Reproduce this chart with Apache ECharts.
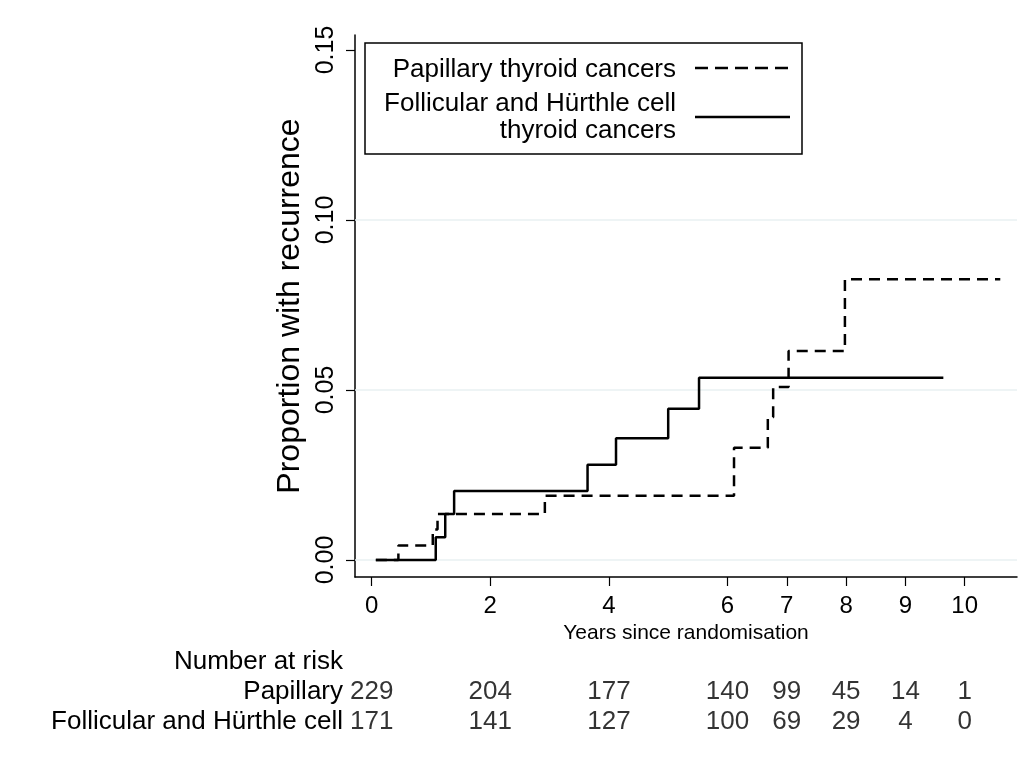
<!DOCTYPE html>
<html>
<head>
<meta charset="utf-8">
<script src="https://cdn.jsdelivr.net/npm/echarts@6/dist/echarts.min.js"></script>
<style>
html,body{margin:0;padding:0;background:#fff;}
#chart{width:1027px;height:758px;}
</style>
</head>
<body>
<div id="chart"></div>
<script>
// ---- data ----
const papillaryTimes  = [0.07, 0.45, 1.03, 1.11, 2.92, 6.11, 6.68, 6.77, 7.03, 7.98, 10.6];
const papillaryValues = [0, 0.0043, 0.009, 0.0135, 0.0189, 0.033, 0.042, 0.0509, 0.0615, 0.0826, 0.0826];
const follicularTimes  = [0.07, 1.08, 1.24, 1.39, 3.64, 4.12, 5.0, 5.52, 9.64];
const follicularValues = [0, 0.0067, 0.0135, 0.0203, 0.028, 0.0358, 0.0445, 0.0536, 0.0536];
const xTicks = [0, 2, 4, 6, 7, 8, 9, 10];
const yTicks = [0, 0.05, 0.10, 0.15];
const riskRows = ['Number at risk', 'Papillary', 'Follicular and Hürthle cell'];
const riskPapillary  = [229, 204, 177, 140, 99, 45, 14, 1];
const riskFollicular = [171, 141, 127, 100, 69, 29, 4, 0];
const seriesNames = ['Papillary thyroid cancers', 'Follicular and Hürthle cell\nthyroid cancers'];

const FONT = 'Liberation Sans, Arial, sans-serif';
const X_MIN = -0.2816, X_MAX = 10.882;
const Y_MIN = -0.005, Y_MAX = 0.1544;

const chart = echarts.init(document.getElementById('chart'), null, {renderer: 'canvas'});

const papData = papillaryTimes.map((t, i) => [t, papillaryValues[i]]);
const folData = follicularTimes.map((t, i) => [t, follicularValues[i]]);
const riskData = [];
xTicks.forEach((t, i) => {
  riskData.push([t, riskRows[1], riskPapillary[i]]);
  riskData.push([t, riskRows[2], riskFollicular[i]]);
});

const option = {
  backgroundColor: '#ffffff',
  animation: false,
  textStyle: {fontFamily: FONT, color: '#000'},
  grid: [
    {left: 355, top: 35, width: 662, height: 542, containLabel: false},
    {left: 355, top: 647, width: 662, height: 90, containLabel: false}
  ],
  xAxis: [
    {
      gridIndex: 0, type: 'value', min: X_MIN, max: X_MAX,
      name: 'Years since randomisation', nameLocation: 'middle', nameGap: 45,
      nameTextStyle: {fontSize: 21, color: '#000', fontFamily: FONT},
      axisLine: {show: true, onZero: false, lineStyle: {color: '#000', width: 1.5}},
      axisTick: {show: true, length: 9, lineStyle: {color: '#000', width: 1.2}, customValues: xTicks},
      axisLabel: {show: true, fontSize: 24, color: '#000', margin: 17, fontFamily: FONT, customValues: xTicks,
        formatter: v => String(v)},
      splitLine: {show: false}
    },
    {
      gridIndex: 1, type: 'value', min: X_MIN, max: X_MAX, show: false
    }
  ],
  yAxis: [
    {
      gridIndex: 0, type: 'value', min: Y_MIN, max: Y_MAX,
      name: 'Proportion with recurrence', nameLocation: 'middle', nameGap: 44, nameRotate: 90,
      nameTextStyle: {fontSize: 32, color: '#000', fontFamily: FONT},
      axisLine: {show: true, onZero: false, lineStyle: {color: '#000', width: 1.5}},
      axisTick: {show: true, length: 9, lineStyle: {color: '#000', width: 1.2}, customValues: yTicks},
      axisLabel: {show: true, rotate: 90, fontSize: 25, color: '#000', margin: 16, fontFamily: FONT,
        customValues: yTicks, formatter: v => v.toFixed(2)},
      splitLine: {show: false}
    },
    {
      gridIndex: 1, type: 'category', data: riskRows, inverse: true,
      axisLine: {show: false}, axisTick: {show: false}, splitLine: {show: false},
      axisLabel: {show: true, interval: 0, fontSize: 26, color: '#000', margin: 12, fontFamily: FONT}
    }
  ],
  series: [
    {
      name: seriesNames[0], type: 'line', step: 'end', data: papData,
      xAxisIndex: 0, yAxisIndex: 0, symbol: 'none', z: 3,
      lineStyle: {color: '#000', width: 2.5, type: [11, 7]},
      markLine: {
        silent: true, symbol: 'none', label: {show: false}, z: 1,
        lineStyle: {color: '#e8f0f2', width: 1.5, type: 'solid'},
        data: [{yAxis: yTicks[0]}, {yAxis: yTicks[1]}, {yAxis: yTicks[2]}]
      }
    },
    {
      name: seriesNames[1], type: 'line', step: 'end', data: folData,
      xAxisIndex: 0, yAxisIndex: 0, symbol: 'none', z: 4,
      lineStyle: {color: '#000', width: 2.5, type: 'solid'}
    },
    {
      name: 'risk', type: 'scatter', xAxisIndex: 1, yAxisIndex: 1,
      data: riskData, symbolSize: 0, silent: true,
      label: {show: true, position: 'inside', fontSize: 26, color: '#000', fontFamily: FONT,
        formatter: p => String(p.value[2])}
    }
  ],
  graphic: [
    {type: 'rect', shape: {x: 365, y: 43, width: 437, height: 111},
      style: {fill: '#fff', stroke: '#000', lineWidth: 1.5}, z: 10},
    {type: 'text', x: 676, y: 70, z: 11,
      style: {text: seriesNames[0], font: '26px ' + FONT, fill: '#000', textAlign: 'right', textVerticalAlign: 'middle'}},
    {type: 'text', x: 676, y: 117.5, z: 11,
      style: {text: seriesNames[1], font: '26px ' + FONT, fill: '#000', textAlign: 'right', textVerticalAlign: 'middle', lineHeight: 27}},
    {type: 'line', shape: {x1: 695, y1: 68, x2: 790, y2: 68}, z: 11,
      style: {stroke: '#000', lineWidth: 2.5, lineDash: [13, 7]}},
    {type: 'line', shape: {x1: 695, y1: 117, x2: 790, y2: 117}, z: 11,
      style: {stroke: '#000', lineWidth: 2.5}}
  ]
};
chart.setOption(option);
</script>
</body>
</html>
